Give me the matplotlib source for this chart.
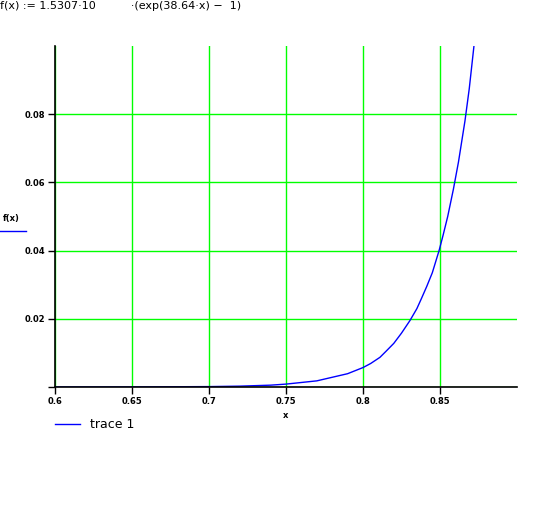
import numpy as np
import matplotlib.pyplot as plt
from matplotlib.lines import Line2D

# values
x_vals = [0.6, 0.65, 0.7, 0.72, 0.74, 0.75, 0.77, 0.79, 0.8, 0.805, 0.811,
          0.815, 0.82, 0.825, 0.8305, 0.835, 0.838, 0.8414, 0.845, 0.8494,
          0.852, 0.855, 0.8587, 0.862, 0.8662, 0.869, 0.872]
f_vals = [0.0000025, 0.000017, 0.00012, 0.00025, 0.00054, 0.00085, 0.0018,
          0.0039, 0.0057, 0.0069, 0.0087, 0.0105, 0.0128, 0.0158, 0.0195,
          0.0230, 0.0260, 0.0295, 0.0335, 0.0400, 0.0445, 0.0500, 0.0580,
          0.0660, 0.0780, 0.0875, 0.0998]

x_ticks = [0.6, 0.65, 0.7, 0.75, 0.8, 0.85]
x_tick_labels = ['0.6', '0.65', '0.7', '0.75', '0.8', '0.85']
y_ticks = [0, 0.02, 0.04, 0.06, 0.08]
y_tick_labels = ['', '0.02', '0.04', '0.06', '0.08']

fig = plt.figure(figsize=(5.58, 5.17), dpi=100)
ax = fig.add_axes([55 / 558, 1 - 387 / 517, 462 / 558, 341 / 517])

ax.plot(x_vals, f_vals, color='#0000ff', linewidth=1)

ax.set_xlim(0.6, 0.9)
ax.set_ylim(0, 0.1)
ax.set_xticks(x_ticks)
ax.set_xticklabels(x_tick_labels, fontsize=6, fontweight='bold')
ax.set_yticks(y_ticks)
ax.set_yticklabels(y_tick_labels, fontsize=6, fontweight='bold')
ax.tick_params(direction='out', length=5, width=1, color='black', pad=2)

ax.grid(True, color='#00ff00', linewidth=1)
ax.set_axisbelow(True)
for s in ['top', 'right']:
    ax.spines[s].set_visible(False)
for s in ['left', 'bottom']:
    ax.spines[s].set_color('black')
    ax.spines[s].set_linewidth(1.2)

# title line at the very top
fig.text(0.0, 1 - 1 / 517, 'f(x) := 1.5307·10          ·(exp(38.64·x) −  1)',
         fontsize=8, va='top', ha='left')

# y label with sample line
fig.text(3 / 558, 1 - 219 / 517, 'f(x)', fontsize=6, fontweight='bold',
         va='center', ha='left')
fig.add_artist(Line2D([0, 26 / 558], [1 - 231 / 517, 1 - 231 / 517],
                      color='#0000ff', linewidth=1, transform=fig.transFigure))

# x label
fig.text(286 / 558, 1 - 415 / 517, 'x', fontsize=6, fontweight='bold',
         va='center', ha='center')

# legend
fig.add_artist(Line2D([55 / 558, 80 / 558], [1 - 424 / 517, 1 - 424 / 517],
                      color='#0000ff', linewidth=1, transform=fig.transFigure))
fig.text(90 / 558, 1 - 424 / 517, 'trace 1', fontsize=9,
         va='center', ha='left')

plt.savefig('out.png', dpi=100)
plt.close()
